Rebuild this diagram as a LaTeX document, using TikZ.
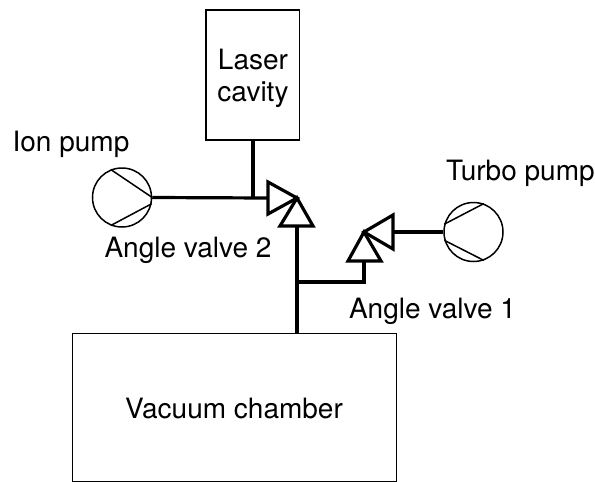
\documentclass[tikz,border=0pt]{standalone}
\usepackage{fontspec}
\setmainfont{TeX Gyre Heros}
\usetikzlibrary{positioning,calc}
\tikzstyle{box} = [draw, line width=1.5pt, inner sep=0pt]
\tikzstyle{pump} = [draw, circle, line width=1.5pt, minimum size=59pt, inner sep=0pt]
\tikzstyle{blade} = [line width=1.5pt]
\tikzstyle{valve} = [line width=3.2pt, line join=miter]
\tikzstyle{pipe} = [line width=3.2pt]
\tikzstyle{label} = [align=center, inner sep=0pt, font=\fontsize{28}{32}\selectfont]

\begin{document}
\begin{tikzpicture}[x=1pt, y=-1pt]
\useasboundingbox (0,0) rectangle (595,482);
	\node[box, minimum width=93.5pt, minimum height=130pt] (cavity) at (252.7, 75) {};
	\node[box, minimum width=324pt, minimum height=148pt] (chamber) at (234.5, 407.3) {};
	\node[pump] (ion) at (122, 197.5) {};
	\node[pump] (turbo) at (473.5, 232) {};

	\node[label] (cavitylabel) at (253, 78) {Laser\\cavity};
	\node[label] (chamberlabel) at (234, 408) {Vacuum chamber};
	\node[label] (ionlabel) at (71, 144) {Ion pump};
	\node[label] (turbolabel) at (520.5, 173.5) {Turbo pump};
	\node[label] (valve2label) at (188, 250.5) {Angle valve 2};
	\node[label] (valve1label) at (432.5, 311) {Angle valve 1};

	% valves
	\coordinate (valve2) at (297, 198);
	\coordinate (valve2left) at (268, 198);
	\coordinate (valve2down) at (297, 226);
	\coordinate (valve1) at (364, 232);
	\coordinate (valve1right) at (393, 232);
	\coordinate (valve1down) at (364, 261);
	\coordinate (cavityjoin) at (253, 197);
	\coordinate (valve1corner) at (364, 282);
	\coordinate (chamberjoin) at (297, 282);
	\draw[valve] (valve2) -- (268, 182) -- (268, 214) -- cycle;
	\draw[valve] (valve2) -- (280, 226) -- (313, 226) -- cycle;
	\draw[valve] (valve1) -- (393, 215) -- (393, 249) -- cycle;
	\draw[valve] (valve1) -- (348, 261) -- (381, 261) -- cycle;

	% pump blades
	\draw[blade] (ion.112) -- (ion.east);
	\draw[blade] (ion.-112) -- (ion.-12);
	\draw[blade] (turbo.165) -- (turbo.70);
	\draw[blade] (turbo.196) -- (turbo.-70);

	% pipes
	\draw[pipe] (ion.east) -- (valve2left);
	\draw[pipe] (cavity.south -| cavityjoin) -- (cavityjoin);
	\draw[pipe] (valve2down) -- (chamber.north -| valve2down);
	\draw[pipe] (valve1down) -- (valve1corner) -- (chamberjoin);
	\draw[pipe] (valve1right) -- (turbo.west);
\end{tikzpicture}
\end{document}
